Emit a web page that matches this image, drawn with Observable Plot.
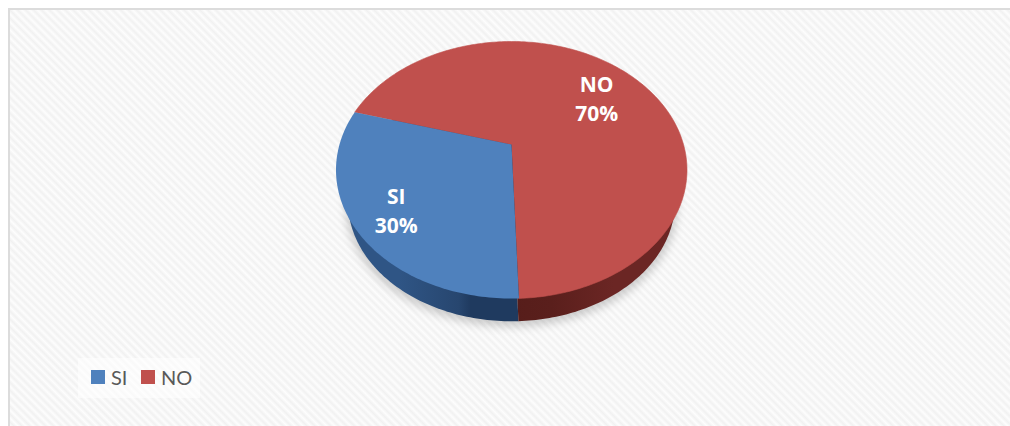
<!DOCTYPE html>
<html>
<head>
<meta charset="utf-8">
<script src="https://cdn.jsdelivr.net/npm/d3@7"></script>
<script src="https://cdn.jsdelivr.net/npm/@observablehq/plot@0.6"></script>
<style>
  html, body { margin: 0; padding: 0; background: #fff; }
  #stage { position: relative; width: 1010px; height: 426px; overflow: hidden; background: #fff; }
  #panel { position: absolute; left: 8px; top: 8px; width: 1002px; height: 418px; box-sizing: border-box;
    border-left: 2px solid #dcdcdc; border-top: 2px solid #dcdcdc;
    background: repeating-linear-gradient(45deg, #fdfdfd 0, #f1f1f1 2.8px, #fdfdfd 5.6px); }
  #chart { position: absolute; left: 0; top: 0; }
  #chart svg { display: block; background: transparent; }
  .shadow { filter: blur(4px); }
  #legend { position: absolute; left: 78px; top: 358px; width: 122px; height: 40px; background: rgba(255,255,255,.55);
    font: 20px Lato, sans-serif; color: #595959; }
  #legend span { position: absolute; top: 5px; line-height: 28px; }
  #legend i { position: absolute; top: 12px; width: 14px; height: 14px; }
</style>
</head>
<body>
<div id="stage">
  <div id="panel"></div>
  <div id="chart"></div>
  <div id="legend"></div>
</div>
<script>
const categories = ["SI", "NO"];
const shares = [30, 70];
const colors = ["#4f81bd", "#c0504d"];
const wallColors = ["url(#wallSI)", "url(#wallNO)"];
const labelRadius = [0.77, 0.68];

const startDegrees = -2;   // first slice starts just right of the front of the pie, runs clockwise
const tilt = 0.198;        // perspective of the tilted disc
const baseScale = 0.932, baseDrop = 0.245; // the lower rim

// a point on the flat pie (angle clockwise from the front, radius 0..1) seen in perspective
function project(deg, r) {
  const a = deg * Math.PI / 180;
  const u = -Math.sin(a) * r, v = Math.cos(a) * r, d = 1 - tilt * v;
  return [u * Math.sqrt(1 - tilt * tilt) / d, (v - tilt) / d];
}

const total = d3.sum(shares);
let cursor = startDegrees;
const slices = categories.map((name, i) => {
  const a0 = cursor, a1 = cursor + shares[i] / total * 360;
  cursor = a1;
  return {name, i, share: shares[i], a0, a1};
});

const top_ = [], wall = [];
for (const s of slices) {
  const outline = [[0, 0]];
  for (let a = s.a0; a < s.a1; a += 1) outline.push([a, 1]);
  outline.push([s.a1, 1]);
  for (const [a, r] of outline) {
    const [x, y] = r === 0 ? project(0, 0) : project(a, r);
    top_.push({name: s.name, x, y});
    wall.push({name: s.name, x: x * baseScale, y: y * baseScale + baseDrop});
  }
}
const shadow = wall.map(d => ({x: d.x * 1.015, y: d.y * 1.01 + 0.03}));

const labels = slices.map(s => {
  const [x, y] = project((s.a0 + s.a1) / 2, labelRadius[s.i]);
  return {x, y, text: `${s.name}\n${s.share}%`};
});

function defs() {
  const d = d3.create("svg:defs");
  const grad = (id, stops) => {
    const g = d.append("linearGradient").attr("id", id);
    stops.forEach(([o, c]) => g.append("stop").attr("offset", o).attr("stop-color", c));
  };
  grad("wallSI", [[0.3, "#2f5585"], [0.65, "#27466f"], [0.72, "#1f3a5f"]]);
  grad("wallNO", [[0.2, "#4f1a17"], [0.6, "#5a1f1c"], [0.8, "#6b2624"]]);
  return d.node();
}

const chart = Plot.plot({
  width: 1010,
  height: 426,
  margin: 0,
  x: {axis: null, domain: [-1, 1], range: [335.5, 686.5]},
  y: {axis: null, domain: [-1, 1], range: [41, 298]},
  color: {domain: categories, range: colors},
  marks: [
    defs,
    Plot.line(shadow, {x: "x", y: "y", fill: "#000", fillOpacity: 0.18, stroke: "none", className: "shadow"}),
    Plot.line(wall.filter(d => d.name === categories[0]), {x: "x", y: "y", fill: wallColors[0], stroke: "none"}),
    Plot.line(wall.filter(d => d.name === categories[1]), {x: "x", y: "y", fill: wallColors[1], stroke: "none"}),
    Plot.line(top_.filter(d => d.name === categories[1]), {x: "x", y: "y", fill: "name", stroke: "name", strokeWidth: 0.6}),
    Plot.line(top_.filter(d => d.name === categories[0]), {x: "x", y: "y", fill: "name", stroke: "none"}),
    Plot.text(labels, {x: "x", y: "y", text: "text", fill: "#fff", fontWeight: 700, fontSize: 21,
      lineHeight: 1.4, fontFamily: "'Open Sans', sans-serif"})
  ]
});
document.getElementById("chart").appendChild(chart);

const legend = d3.select("#legend");
const swatchX = [13, 63], textX = [33, 83];
categories.forEach((name, i) => {
  legend.append("i").style("left", swatchX[i] + "px").style("background", colors[i]);
  legend.append("span").style("left", textX[i] + "px").text(name);
});
</script>
</body>
</html>
